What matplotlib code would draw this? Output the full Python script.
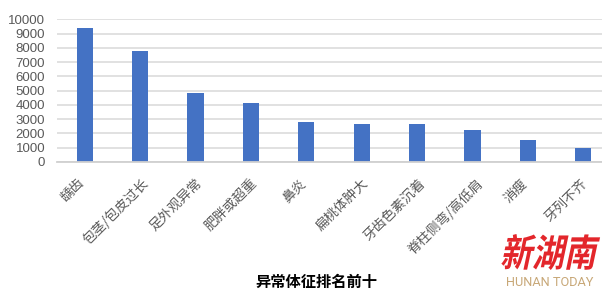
import matplotlib
matplotlib.use("Agg")
import matplotlib.pyplot as plt
from matplotlib.textpath import TextPath
from matplotlib.patches import PathPatch
from matplotlib.font_manager import FontProperties
from matplotlib.transforms import Affine2D, IdentityTransform

categories = ["龋齿", "包茎/包皮过长", "足外观异常", "肥胖或超重", "鼻炎",
              "扁桃体肿大", "牙齿色素沉着", "脊柱侧弯/高低肩", "消瘦", "牙列不齐"]
values = [9400, 7790, 4840, 4140, 2800, 2660, 2660, 2250, 1550, 990]
yticks = list(range(0, 10001, 1000))
title = "异常体征排名前十"

W, H = 602, 295
fig = plt.figure(figsize=(W / 100, H / 100), dpi=100)
ax = fig.add_axes([57 / W, (H - 162) / H, 554 / W, (162 - 19.3) / H])

x = list(range(len(categories)))
ax.bar(x, values, width=0.29, color="#4472C4", zorder=3)
ax.set_xlim(-0.5, len(categories) - 0.5)
ax.set_ylim(0, 10000)
ax.set_yticks(yticks)
ax.set_yticklabels([str(v) for v in yticks], family="Liberation Sans",
                   fontsize=9.5, color="#595959")
ax.tick_params(axis="y", length=0, pad=8.5)
ax.set_xticks([])
ax.grid(axis="y", color="#D9D9D9", linewidth=1.1, zorder=0)
for s in ["left", "right", "top"]:
    ax.spines[s].set_visible(False)
ax.spines["bottom"].set_color("#D0D0D0")
ax.spines["bottom"].set_linewidth(1.3)
ax.spines["bottom"].set_zorder(4)

for i, lab in enumerate(categories):
    n_eff = sum(0.5 if c == "/" else 1 for c in lab)
    dx_px = 2.2 * (n_eff - 2) + 2
    ax.annotate(lab, xy=(i, 0), xycoords=("data", "axes fraction"),
                xytext=(dx_px * 0.72, -10.0), textcoords="offset points",
                rotation=45, ha="right", va="top",
                family=["Noto Sans CJK SC", "DejaVu Sans"], fontsize=9.7,
                color="#595959", annotation_clip=False)

fig.text(316 / W, 1 - 282 / H, title, ha="center", va="center",
         family=["Noto Sans CJK SC", "DejaVu Sans"], fontsize=11,
         fontweight="bold", color="#000000")

# logo
fp = FontProperties(family="Noto Sans CJK SC", weight="black")
tp = TextPath((0, 0), "新湖南", size=38, prop=fp)
ext = tp.get_extents()
tr = (Affine2D().translate(-ext.x0, -ext.y0).scale(0.84, 1.0)
      .skew_deg(12, 0).translate(500, 25) + IdentityTransform())
fig.add_artist(PathPatch(tp, transform=tr, facecolor="#E3262B", edgecolor="none"))

fig.text(550 / W, 1 - 283 / H, "HUNAN TODAY", ha="center", va="center",
         family="Roboto", fontsize=9.2, color="#C8A878")

fig.savefig("out.png", dpi=100)
